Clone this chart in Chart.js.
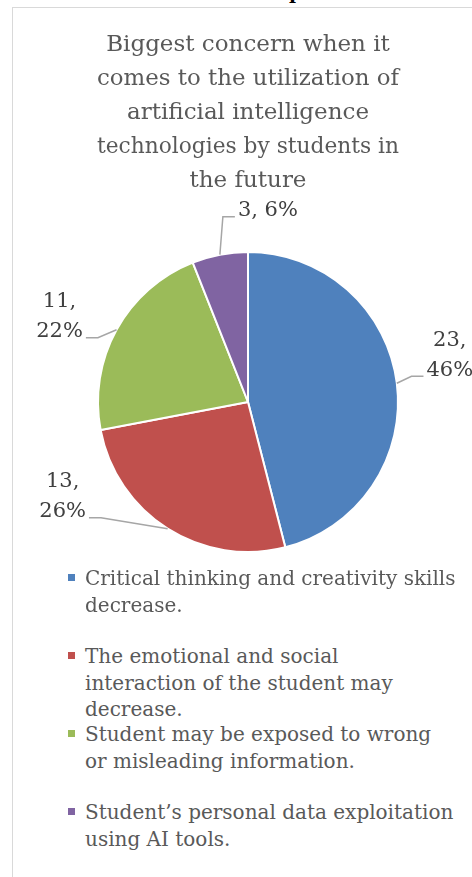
<!DOCTYPE html>
<html>
<head>
<meta charset="utf-8">
<script src="https://cdn.jsdelivr.net/npm/chart.js@4.4.1/dist/chart.umd.min.js"></script>
<style>
  html, body { margin: 0; padding: 0; background: #fff; width: 472px; height: 877px; overflow: hidden; }
  body { position: relative; font-family: "DejaVu Serif", serif; }
  .above { position: absolute; left: 0; width: 472px; top: -18px; text-align: center; font: bold 19px/20px "DejaVu Serif", serif; color: #000; }
  .frame { position: absolute; left: 12px; top: 7px; width: 480px; height: 900px; border: 1px solid #d9d9d9; box-sizing: border-box; background: transparent; }
  #wrap { position: absolute; left: 0; top: 0; width: 472px; height: 600px; }
  #legend { position: absolute; left: 0; top: 565px; width: 472px; }
  .item { position: absolute; left: 85px; font-size: 20px; line-height: 26.5px; color: #595959; white-space: nowrap; }
  .item .box { position: absolute; left: -17px; top: 9px; width: 7px; height: 7px; }
</style>
</head>
<body>
<div class="above">in the future response.</div>
<div class="frame"></div>
<div id="wrap"><canvas id="pie"></canvas></div>
<div id="legend"></div>
<script>
// data
const titleLines = ['Biggest concern when it', 'comes to the utilization of', 'artificial intelligence', 'technologies by students in', 'the future'];
const categories = [
  ['Critical thinking and creativity skills', 'decrease.'],
  ['The emotional and social', 'interaction of the student may', 'decrease.'],
  ['Student may be exposed to wrong', 'or misleading information.'],
  ['Student\u2019s personal data exploitation', 'using AI tools.']
];
const counts = [23, 13, 11, 3];
const colors = ['#4F81BD', '#C0504D', '#9BBB59', '#8064A2'];

// labels with leader lines, like excel's outside labels
const sliceLabels = {
  id: 'sliceLabels',
  afterDatasetsDraw(chart, args, opts) {
    const ctx = chart.ctx;
    const meta = chart.getDatasetMeta(0);
    const data = chart.data.datasets[0].data;
    const total = data.reduce((a, b) => a + b, 0);
    ctx.save();
    ctx.font = opts.font;
    ctx.textAlign = 'center';
    ctx.textBaseline = 'middle';
    ctx.strokeStyle = opts.lineColor;
    ctx.lineWidth = 1.5;
    meta.data.forEach((arc, i) => {
      const p = arc.getProps(['x', 'y', 'startAngle', 'endAngle', 'outerRadius'], true);
      const mid = (p.startAngle + p.endAngle) / 2;
      const ax = p.x + Math.cos(mid) * p.outerRadius;
      const ay = p.y + Math.sin(mid) * p.outerRadius;
      const pct = Math.round(data[i] / total * 100);
      const lines = opts.wrap[i] ? [data[i] + ',', pct + '%'] : [data[i] + ', ' + pct + '%'];
      const cx = ax + opts.offsets[i][0];
      const cy = ay + opts.offsets[i][1];
      const lh = opts.lineHeight;
      const top = cy - lh * lines.length / 2;
      const w = Math.max(...lines.map(l => ctx.measureText(l).width));
      ctx.fillStyle = opts.color;
      lines.forEach((l, k) => ctx.fillText(l, cx, top + lh * (k + 0.5)));
      const ly = top + lh * (lines.length - 0.5) + 6;
      const onLeft = cx < ax;
      const ex = onLeft ? cx + w / 2 + 3 : cx - w / 2 - 3;
      const bx = onLeft ? ex + 12 : ex - 12;
      ctx.beginPath();
      ctx.moveTo(ax, ay);
      ctx.lineTo(bx, ly);
      ctx.lineTo(ex, ly);
      ctx.stroke();
    });
    ctx.restore();
  }
};

new Chart(document.getElementById('pie'), {
  type: 'pie',
  data: {
    labels: categories,
    datasets: [{
      data: counts,
      backgroundColor: colors,
      borderColor: '#ffffff',
      borderWidth: 2
    }]
  },
  options: {
    responsive: true,
    maintainAspectRatio: false,
    animation: false,
    layout: { padding: { left: 97, right: 73, top: 0, bottom: 47 } },
    plugins: {
      legend: { display: false },
      tooltip: { enabled: false },
      title: {
        display: true,
        text: titleLines,
        color: '#595959',
        font: { family: 'DejaVu Serif', size: 23, weight: 'normal', lineHeight: '34px' },
        padding: { top: 28, bottom: 53 }
      },
      sliceLabels: {
        font: '21px "DejaVu Serif"',
        color: '#404040',
        lineColor: '#a6a6a6',
        lineHeight: 30,
        wrap: [true, true, true, false],
        offsets: [[53, -28], [-105, -32], [-57, -13], [48, -44]]
      }
    }
  },
  plugins: [sliceLabels]
});

// legend, one block per category
const legend = document.getElementById('legend');
categories.forEach((lines, i) => {
  const el = document.createElement('div');
  el.className = 'item';
  el.style.top = (i * 78) + 'px';
  el.innerHTML = '<span class="box" style="background:' + colors[i] + '"></span>' + lines.join('<br>');
  legend.appendChild(el);
});
</script>
</body>
</html>
